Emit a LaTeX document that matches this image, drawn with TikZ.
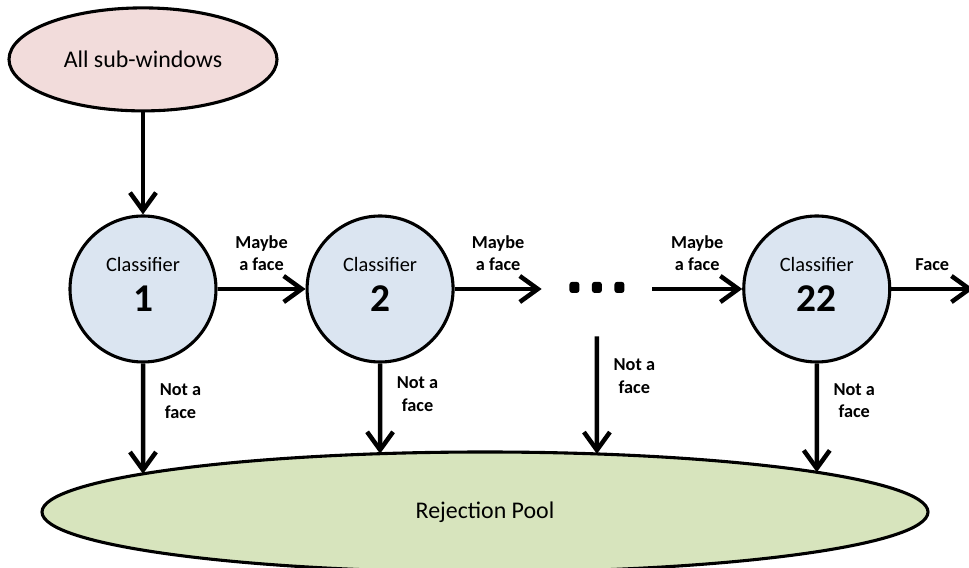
\documentclass[tikz,border=0pt]{standalone}
\usepackage{fontspec}
\setmainfont{Carlito}
\usepackage{tikz}
\usetikzlibrary{shapes.geometric, arrows.meta, positioning, intersections}
\definecolor{startpink}{RGB}{242,220,219}
\definecolor{clfblue}{RGB}{219,229,241}
\definecolor{poolgreen}{RGB}{215,228,189}
\tikzset{
  startnode/.style={ellipse, draw=black, fill=startpink, line width=2.2pt,
    minimum width=6.7cm, minimum height=2.575cm,
    font=\fontsize{17}{20}\selectfont},
  clf/.style={circle, draw=black, fill=clfblue, line width=2.2pt,
    minimum size=3.65cm, inner sep=0pt, align=center,
    font=\fontsize{14.5}{17}\selectfont},
  poolnode/.style={ellipse, draw=black, fill=poolgreen, line width=2.2pt,
    minimum width=22.15cm, minimum height=3cm,
    font=\fontsize{17}{20}\selectfont},
  arrow/.style={-{Straight Barb[length=4.5mm, width=6.5mm]}, line width=3.2pt},
  tag/.style={font=\bfseries\fontsize{13}{16}\selectfont, align=center}
}
\newcommand{\clfnum}[1]{{\fontsize{28}{28}\selectfont\bfseries #1}\rule[-6pt]{0pt}{6pt}}

\begin{document}
\begin{tikzpicture}
  \useasboundingbox (0,0) rectangle (24.225,14.175);

  % classifier chain
  \node[clf] (c1) at (3.575,6.95) {Classifier\\[9pt]\clfnum{1}};
  \node[clf, right=2.2cm of c1] (c2) {Classifier\\[9pt]\clfnum{2}};
  \node[minimum width=2.75cm, minimum height=2.35cm, inner sep=0pt,
    right=2.175cm of c2] (dots) {};
  \node[clf, right=2.25cm of dots] (c22) {Classifier\\[9pt]\clfnum{22}};
  \coordinate[right=2.05cm of c22.east] (faceout);

  \foreach \dx in {-0.5625,0,0.5625}
    \fill[rounded corners=2pt] ([shift={({\dx-0.125},-0.1)}]dots.center) rectangle ++(0.25,0.28);

  \node[startnode, above=2.55cm of c1] (all) {All sub-windows};
  \node[poolnode, name path=poolrim] (pool) at (12.125,1.375) {Rejection Pool};

  % Arrows
  \draw[arrow] (all) -- (c1);
  \draw[arrow] (c1) -- node[tag, above=8pt] (m1) {Maybe\\a face} (c2);
  \draw[arrow] (c2) -- node[tag, above=8pt] (m2) {Maybe\\a face} (dots);
  \draw[arrow] (dots) -- node[tag, above=8pt] (m3) {Maybe\\a face} (c22);
  \draw[arrow] (c22) -- node[tag, above=8pt] (face) {Face} (faceout);

  % rejected windows
  \foreach \src in {c1,c2,dots,c22} {
    \path[name path=drop] (\src.south) -- ++(0,-3.2);
    \draw[arrow, name intersections={of=drop and poolrim}] (\src.south) -- (intersection-1)
      node[tag, pos=0.34, right=7pt] (nf-\src) {Not a\\face};
  }
\end{tikzpicture}
\end{document}
